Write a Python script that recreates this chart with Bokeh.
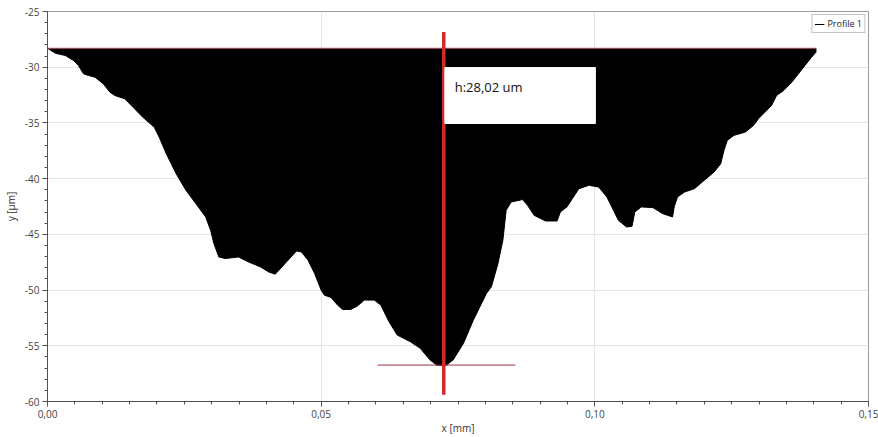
from bokeh.plotting import figure
from bokeh.models import FixedTicker, Range1d, Legend, LegendItem
from bokeh.core.properties import value
from bokeh.embed import file_html
from bokeh.resources import INLINE

# Profile 1 (x in mm, y in µm)
profile_x = [0.0000, 0.00145, 0.00326, 0.00476, 0.00566, 0.00657, 0.00747, 0.00869, 0.01019, 0.0114,
             0.0123, 0.0141, 0.0156, 0.0174, 0.0195, 0.0204, 0.0217, 0.0235, 0.0253, 0.0271,
             0.0289, 0.0298, 0.0304, 0.0313, 0.0325, 0.0349, 0.0367, 0.0389, 0.0404, 0.0416,
             0.0434, 0.0455, 0.0464, 0.0476, 0.0488, 0.0500, 0.0506, 0.0518, 0.0530, 0.0539,
             0.0554, 0.0566, 0.0579, 0.0597, 0.0609, 0.0624, 0.0639, 0.0663, 0.0681, 0.0699,
             0.0711, 0.0723, 0.0729, 0.0741, 0.0760, 0.0778, 0.0802, 0.0811, 0.0823, 0.0832,
             0.0838, 0.0847, 0.0868, 0.0877, 0.0889, 0.0910, 0.0931, 0.0937, 0.0949, 0.0959,
             0.0971, 0.0989, 0.1007, 0.1022, 0.1034, 0.1043, 0.1058, 0.1068, 0.1073, 0.1085,
             0.1106, 0.1124, 0.1142, 0.1145, 0.1151, 0.1164, 0.1182, 0.1200, 0.1218, 0.1230,
             0.1236, 0.1242, 0.1254, 0.1275, 0.1290, 0.1299, 0.1311, 0.1323, 0.1332, 0.1345,
             0.1360, 0.1372, 0.1384, 0.1396, 0.1404, 0.1404]
profile_y = [-28.30, -28.75, -28.95, -29.40, -29.85, -30.59, -30.74, -30.90, -31.49, -32.24,
             -32.54, -32.83, -33.58, -34.48, -35.38, -36.27, -37.76, -39.55, -41.05, -42.24,
             -43.44, -44.63, -45.82, -47.03, -47.17, -47.03, -47.47, -47.92, -48.37, -48.58,
             -47.62, -46.49, -46.58, -47.32, -48.51, -50.01, -50.46, -50.66, -51.35, -51.74,
             -51.74, -51.44, -50.90, -50.90, -51.35, -52.85, -54.04, -54.64, -55.23, -56.28,
             -56.73, -56.79, -56.73, -56.28, -54.78, -52.70, -50.30, -49.71, -47.62, -45.53,
             -42.84, -42.10, -41.88, -42.39, -43.29, -43.80, -43.80, -42.99, -42.54, -41.79,
             -40.90, -40.60, -40.75, -41.65, -42.84, -43.74, -44.34, -44.27, -42.99, -42.54,
             -42.60, -43.14, -43.44, -42.54, -41.65, -41.20, -40.90, -40.15, -39.41, -38.66,
             -37.46, -36.57, -36.12, -35.82, -35.22, -34.62, -34.03, -33.43, -32.54, -32.09,
             -31.34, -30.59, -29.85, -29.10, -28.66, -28.30]

reference_level = -28.30          # top reference line (µm)
depth_marker_x = 0.0724           # x of the vertical depth marker (mm)
depth_marker_span = [-26.85, -59.4]
bottom_level = -56.73
bottom_marker_span = [0.0603, 0.0855]
label_box_x = [0.0726, 0.1001]
label_box_y = [-35.05, -30.03]
label_text = "h:28,02 um"

x_ticks = [0.0, 0.05, 0.10, 0.15]
x_tick_labels = ["0,00", "0,05", "0,10", "0,15"]
y_ticks = [-60, -55, -50, -45, -40, -35, -30, -25]
y_tick_labels = ["-60", "-55", "-50", "-45", "-40", "-35", "-30", "-25"]

FONT = "Open Sans"

p = figure(width=878, height=437, output_backend="svg", toolbar_location=None,
           x_range=Range1d(0, 0.15), y_range=Range1d(-60, -25),
           min_border_top=11, min_border_right=10, min_border_left=47, min_border_bottom=0)

p.outline_line_color = "#9a9a9a"
p.background_fill_color = "white"

# axes
p.xaxis.ticker = FixedTicker(ticks=x_ticks, minor_ticks=[i * 0.005 for i in range(31)])
p.yaxis.ticker = FixedTicker(ticks=y_ticks, minor_ticks=list(range(-60, -24)))
p.xaxis.major_label_overrides = dict(zip(x_ticks, x_tick_labels))
p.yaxis.major_label_overrides = dict(zip(y_ticks, y_tick_labels))
for ax in (p.xaxis, p.yaxis):
    ax.axis_line_color = "#505050"
    ax.major_tick_line_color = "#505050"
    ax.minor_tick_line_color = "#505050"
    ax.major_tick_in = 0
    ax.major_tick_out = 5
    ax.minor_tick_in = 0
    ax.minor_tick_out = 3
    ax.major_label_text_font = FONT
    ax.major_label_text_font_size = "10px"
    ax.major_label_text_color = "#444444"
    ax.axis_label_text_font = FONT
    ax.axis_label_text_font_size = "10px"
    ax.axis_label_text_font_style = "normal"
    ax.axis_label_text_color = "#333333"
p.xaxis.axis_label = "x [mm]"
p.yaxis.axis_label = "y [µm]"
p.xaxis.axis_label_standoff = 0
p.yaxis.axis_label_standoff = 4
p.xaxis.major_label_standoff = 3
p.yaxis.major_label_standoff = 3

p.xgrid.grid_line_color = "#e4e4e4"
p.ygrid.grid_line_color = "#e4e4e4"

# profile fill
p.varea(x=profile_x, y1=profile_y, y2=reference_level, fill_color="black")
prof = p.line(profile_x, profile_y, line_color="black", line_width=1)

# reference line
p.line([profile_x[0], profile_x[-1]], [reference_level, reference_level],
       line_color="#b04a5a", line_width=1)

# bottom marker
p.line(bottom_marker_span, [bottom_level, bottom_level], line_color="#a03040", line_width=1)

# depth marker
p.line([depth_marker_x, depth_marker_x], depth_marker_span, line_color="#d42a2a", line_width=3.5)

# label box
p.quad(left=label_box_x[0], right=label_box_x[1], bottom=label_box_y[0], top=label_box_y[1],
       fill_color="white", line_color="white")
p.text(x=[label_box_x[0] + 0.0018], y=[-31.8], text=[label_text], text_font=value(FONT),
       text_font_size="13px", text_color="#111111", text_baseline="middle", text_align="left")

legend = Legend(items=[LegendItem(label="Profile 1", renderers=[prof])], location="top_right")
legend.label_text_font = FONT
legend.label_text_font_size = "9px"
legend.label_text_color = "#222222"
legend.glyph_width = 10
legend.glyph_height = 10
legend.label_height = 10
legend.label_standoff = 3
legend.padding = 2
legend.spacing = 0
legend.margin = 3
legend.border_line_color = "#888888"
legend.border_line_width = 1
legend.background_fill_alpha = 1
p.add_layout(legend)

open("out.html", "w").write(file_html(p, INLINE))
